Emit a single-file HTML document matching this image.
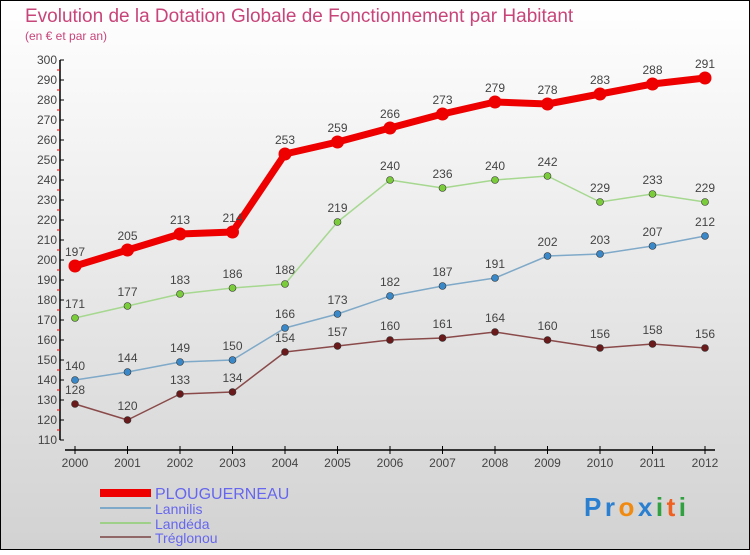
<!DOCTYPE html>
<html><head><meta charset="utf-8"><style>
html,body{margin:0;padding:0}
body{width:750px;height:550px;overflow:hidden;font-family:"Liberation Sans",sans-serif}
</style></head><body>
<svg id="c" width="750" height="550" xmlns="http://www.w3.org/2000/svg">
<defs><linearGradient id="bg" x1="0" y1="0" x2="0" y2="1"><stop offset="0" stop-color="#ffffff"/><stop offset="1" stop-color="#d2d2d2"/></linearGradient></defs>
<rect x="0.5" y="0.5" width="749" height="549" fill="url(#bg)" stroke="#000"/>
<text x="25" y="22" font-size="19" fill="#c8457a">Evolution de la Dotation Globale de Fonctionnement par Habitant</text>
<text x="25" y="40" font-size="12" fill="#c8457a">(en € et par an)</text>
<g id="axes"></g><g id="series"></g>
<g>
<rect x="100" y="489" width="51" height="8" fill="#ee0000"/>
<text x="155" y="499" font-size="16" fill="#6666ee">PLOUGUERNEAU</text>
<line x1="100" y1="508" x2="151" y2="508" stroke="#7fa9c8" stroke-width="2"/>
<text x="155" y="514" font-size="14" fill="#6666ee">Lannilis</text>
<line x1="100" y1="523" x2="151" y2="523" stroke="#9ed08a" stroke-width="2"/>
<text x="155" y="529" font-size="14" fill="#6666ee">Landéda</text>
<line x1="100" y1="537" x2="151" y2="537" stroke="#906868" stroke-width="2"/>
<text x="155" y="543" font-size="14" fill="#6666ee">Tréglonou</text>
</g>
<text x="584" y="516" font-size="26" font-weight="bold" textLength="102" lengthAdjust="spacing"><tspan fill="#2a7fd0">Pr</tspan><tspan fill="#f08a10">o</tspan><tspan fill="#2a7fd0">x</tspan><tspan fill="#30a040">i</tspan><tspan fill="#f06020">t</tspan><tspan fill="#30a040">i</tspan></text>
</svg>
<script>
const years=[2000,2001,2002,2003,2004,2005,2006,2007,2008,2009,2010,2011,2012];
const plouguerneau=[197,205,213,214,253,259,266,273,279,278,283,288,291];
const lannilis=[140,144,149,150,166,173,182,187,191,202,203,207,212];
const landeda=[171,177,183,186,188,219,240,236,240,242,229,233,229];
const treglonou=[128,120,133,134,154,157,160,161,164,160,156,158,156];
const yTicks=[110,120,130,140,150,160,170,180,190,200,210,220,230,240,250,260,270,280,290,300];
const NS="http://www.w3.org/2000/svg";
const X=i=>75+i*52.5, Y=v=>60+(300-v)*2;
function mk(t,a,p){const e=document.createElementNS(NS,t);for(const k in a)e.setAttribute(k,a[k]);p.appendChild(e);return e;}
const ax=document.getElementById('axes');
const ya=mk('line',{x1:60,y1:Y(300),x2:60,y2:Y(110),stroke:'#000','stroke-width':1.5},ax);


yTicks.forEach(v=>{
 mk('line',{x1:60,y1:Y(v),x2:64,y2:Y(v),stroke:'#000'},ax);
 if(v<300)mk('line',{x1:57,y1:Y(v+5),x2:60,y2:Y(v+5),stroke:'#e00'},ax);
 const t=mk('text',{x:57,y:Y(v)+4,'font-size':12,fill:'#444','text-anchor':'end'},ax);t.textContent=v;
 
 
});
const xa=mk('line',{x1:65,y1:450,x2:715,y2:450,stroke:'#000','stroke-width':1.5},ax);


years.forEach((y,i)=>{
 mk('line',{x1:X(i),y1:446,x2:X(i),y2:454,stroke:'#000'},ax);
 const t=mk('text',{x:X(i),y:467,'font-size':12,fill:'#444','text-anchor':'middle'},ax);t.textContent=y;
 
 
});
const sg=document.getElementById('series');
function series(name,data,color,dot,w,r){
 const g=mk('g',{},sg);
 
 
 const l=mk('polyline',{points:data.map((v,i)=>X(i)+','+Y(v)).join(' '),fill:'none',stroke:color,'stroke-width':w,'stroke-linejoin':'round'},g);
 
 
 data.forEach((v,i)=>{
  const c=mk('circle',{cx:X(i),cy:Y(v),r:r,fill:dot,stroke:'#333','stroke-width':r>5?0:0.6},g);
  
  
  const t=mk('text',{x:X(i),y:Y(v)-10,'font-size':12,fill:'#444','text-anchor':'middle'},g);t.textContent=v;
  
  
 });
}
series('treglonou',treglonou,'#8a4a4a','#6a1a1a',1.5,3.5);
series('lannilis',lannilis,'#7fa9c8','#3a88c8',1.5,3.5);
series('landeda',landeda,'#a6d890','#7acc3a',1.5,3.5);
series('plouguerneau',plouguerneau,'#ee0000','#ee0000',7,6.5);
</script>
</body></html>
